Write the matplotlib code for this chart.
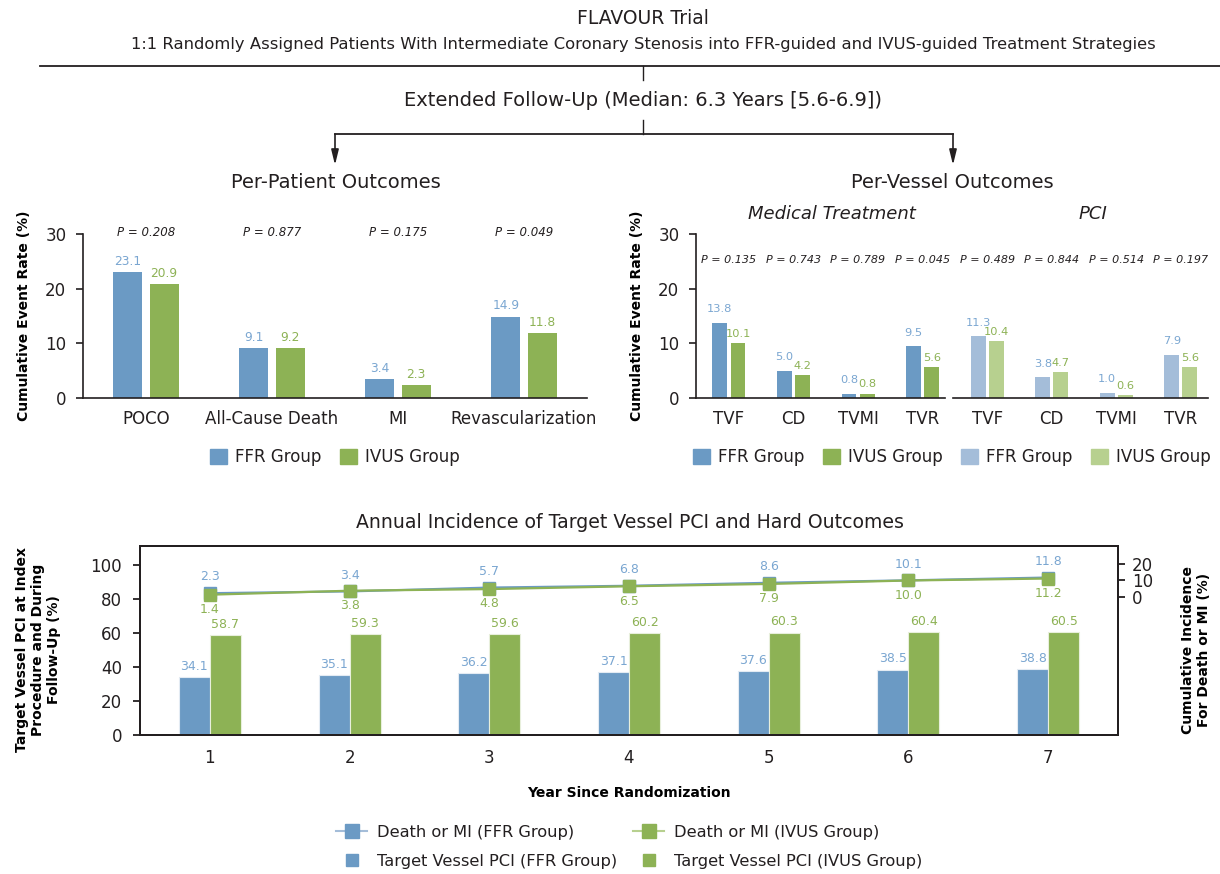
import numpy as np
import matplotlib
matplotlib.use("Agg")
import matplotlib.pyplot as plt
from matplotlib.patches import Patch
from matplotlib.lines import Line2D

plt.rcParams['font.family'] = 'DejaVu Sans'
plt.rcParams['text.color'] = '#231f20'
plt.rcParams['axes.edgecolor'] = '#231f20'
plt.rcParams['xtick.color'] = '#231f20'
plt.rcParams['ytick.color'] = '#231f20'

# per-patient outcomes
patient_outcomes = ['POCO', 'All-Cause Death', 'MI', 'Revascularization']
patient_ffr = [23.1, 9.1, 3.4, 14.9]
patient_ivus = [20.9, 9.2, 2.3, 11.8]
patient_p = ['0.208', '0.877', '0.175', '0.049']

# per-vessel outcomes, medical treatment and PCI
vessel_outcomes = ['TVF', 'CD', 'TVMI', 'TVR']
medical_ffr = [13.8, 5.0, 0.8, 9.5]
medical_ivus = [10.1, 4.2, 0.8, 5.6]
medical_p = ['0.135', '0.743', '0.789', '0.045']
pci_ffr = [11.3, 3.8, 1.0, 7.9]
pci_ivus = [10.4, 4.7, 0.6, 5.6]
pci_p = ['0.489', '0.844', '0.514', '0.197']

# annual incidence
years = [1, 2, 3, 4, 5, 6, 7]
tvpci_ffr = [34.1, 35.1, 36.2, 37.1, 37.6, 38.5, 38.8]
tvpci_ivus = [58.7, 59.3, 59.6, 60.2, 60.3, 60.4, 60.5]
death_mi_ffr = [2.3, 3.4, 5.7, 6.8, 8.6, 10.1, 11.8]
death_mi_ivus = [1.4, 3.8, 4.8, 6.5, 7.9, 10.0, 11.2]

FFR = '#6b9ac4'
IVUS = '#8db255'
FFR_LIGHT = '#a4bdd9'
IVUS_LIGHT = '#b7d08f'
FFR_TEXT = '#7aa6d1'
IVUS_TEXT = '#8db255'
DARK = '#231f20'

W, H = 1220, 874
fig = plt.figure(figsize=(W / 100, H / 100), dpi=100)


def rect(left, top, right, bottom):
    return [left / W, 1 - bottom / H, (right - left) / W, (bottom - top) / H]


# flow header drawn in pixel space
over = fig.add_axes([0, 0, 1, 1])
over.set_xlim(0, W)
over.set_ylim(H, 0)
over.axis('off')
over.text(643, 19, 'FLAVOUR Trial', ha='center', va='center', fontsize=13.5)
over.text(643, 45, '1:1 Randomly Assigned Patients With Intermediate Coronary Stenosis '
          'into FFR-guided and IVUS-guided Treatment Strategies',
          ha='center', va='center', fontsize=11.8)
over.plot([40, W], [66, 66], color=DARK, lw=1.3)
over.plot([643, 643], [66, 80], color=DARK, lw=1)
over.text(643, 101, 'Extended Follow-Up (Median: 6.3 Years [5.6-6.9])',
          ha='center', va='center', fontsize=14)
over.plot([643, 643], [120, 134], color=DARK, lw=1)
over.plot([335, 953], [134, 134], color=DARK, lw=1.3)
for xa in (335, 953):
    over.annotate('', xy=(xa, 165), xytext=(xa, 134),
                  arrowprops=dict(arrowstyle='-|>,head_length=0.9,head_width=0.22',
                                  color=DARK, lw=1.2, shrinkA=0, shrinkB=0))
over.text(336, 183, 'Per-Patient Outcomes', ha='center', va='center', fontsize=14)
over.text(952, 183, 'Per-Vessel Outcomes', ha='center', va='center', fontsize=14)
over.text(630, 522, 'Annual Incidence of Target Vessel PCI and Hard Outcomes',
          ha='center', va='center', fontsize=13.6)


def style_bar_axes(ax):
    ax.set_ylim(0, 30)
    ax.set_yticks([0, 10, 20, 30])
    ax.spines['top'].set_visible(False)
    ax.spines['right'].set_visible(False)
    ax.spines['left'].set_linewidth(1.2)
    ax.spines['bottom'].set_linewidth(1.2)
    ax.tick_params(axis='x', length=0, pad=9, labelsize=12)
    ax.tick_params(axis='y', length=5, width=1.2, pad=7, labelsize=12)
    ax.patch.set_alpha(0)


# per-patient panel
ax1 = fig.add_axes(rect(83, 234, 587, 398))
x = np.arange(len(patient_outcomes))
bw, off = 0.23, 0.143
b1 = ax1.bar(x - off, patient_ffr, bw, color=FFR)
b2 = ax1.bar(x + off, patient_ivus, bw, color=IVUS)
ax1.bar_label(b1, fmt='%.1f', padding=3, color=FFR_TEXT, fontsize=8.8)
ax1.bar_label(b2, fmt='%.1f', padding=3, color=IVUS_TEXT, fontsize=8.8)
for i, p in enumerate(patient_p):
    ax1.text(i, 30.2, f'P = {p}', style='italic', ha='center', va='center',
             fontsize=8.5, clip_on=False)
ax1.set_xlim(-0.5, 3.5)
ax1.set_xticks(x)
ax1.set_xticklabels(patient_outcomes)
style_bar_axes(ax1)
ax1.set_ylabel('Cumulative Event Rate (%)', fontweight='bold', fontsize=10, va='center')
ax1.yaxis.set_label_coords(-0.117, 0.5)

fig.legend(handles=[Patch(color=FFR, label='FFR Group'), Patch(color=IVUS, label='IVUS Group')],
           loc='center', bbox_to_anchor=(335 / W, 1 - 457 / H), ncol=2, frameon=False,
           fontsize=12, handlelength=1.0, handleheight=1.0, handletextpad=0.5,
           columnspacing=1.1)

# per-vessel panel
ax2 = fig.add_axes(rect(696, 234, 1208, 398))
xm = np.arange(len(vessel_outcomes))
xp = xm + len(vessel_outcomes)
vbw, voff = 0.23, 0.14
groups = [
    (xm, medical_ffr, medical_ivus, medical_p, FFR, IVUS),
    (xp, pci_ffr, pci_ivus, pci_p, FFR_LIGHT, IVUS_LIGHT),
]
for pos, ffr_vals, ivus_vals, pvals, c_ffr, c_ivus in groups:
    bf = ax2.bar(pos - voff, ffr_vals, vbw, color=c_ffr)
    bi = ax2.bar(pos + voff, ivus_vals, vbw, color=c_ivus)
    ax2.bar_label(bf, fmt='%.1f', padding=6, color=FFR_TEXT, fontsize=8.2)
    ax2.bar_label(bi, fmt='%.1f', padding=3, color=IVUS_TEXT, fontsize=8.2)
    for xi, p in zip(pos, pvals):
        ax2.text(xi, 25.2, f'P = {p}', style='italic', ha='center', va='center',
                 fontsize=8, clip_on=False)
ax2.text(xm.mean() + 0.1, 33.7, 'Medical Treatment', style='italic', ha='center',
         va='center', fontsize=13, clip_on=False)
ax2.text(xp.mean() + 0.13, 33.7, 'PCI', style='italic', ha='center',
         va='center', fontsize=13, clip_on=False)
ax2.set_xlim(-0.51, 7.42)
ax2.set_xticks(np.concatenate([xm, xp]))
ax2.set_xticklabels(vessel_outcomes * 2)
style_bar_axes(ax2)
ax2.spines['bottom'].set_visible(False)
ax2.axhline(0, xmin=0, xmax=0.486, color=DARK, lw=1.2, clip_on=False)
ax2.axhline(0, xmin=0.502, xmax=1, color=DARK, lw=1.2, clip_on=False)
ax2.set_ylabel('Cumulative Event Rate (%)', fontweight='bold', fontsize=10, va='center')
ax2.yaxis.set_label_coords(-0.115, 0.5)

fig.legend(handles=[Patch(color=FFR, label='FFR Group'), Patch(color=IVUS, label='IVUS Group'),
                    Patch(color=FFR_LIGHT, label='FFR Group'),
                    Patch(color=IVUS_LIGHT, label='IVUS Group')],
           loc='center', bbox_to_anchor=(952 / W, 1 - 457 / H), ncol=4, frameon=False,
           fontsize=12, handlelength=1.0, handleheight=1.0, handletextpad=0.5,
           columnspacing=1.1)

# annual incidence panel
ax3 = fig.add_axes(rect(140, 546, 1118, 735))
yr = np.array(years)
tw = 0.222
b3 = ax3.bar(yr - tw / 2, tvpci_ffr, tw, color=FFR, edgecolor='#e3ebf3', linewidth=0.8)
b4 = ax3.bar(yr + tw / 2, tvpci_ivus, tw, color=IVUS, edgecolor='#e8efdc', linewidth=0.8)
ax3.bar_label(b3, fmt='%.1f', padding=3, color=FFR_TEXT, fontsize=9)
ax3.bar_label(b4, fmt='%.1f', padding=3, color=IVUS_TEXT, fontsize=9)
ax3.set_xlim(0.5, 7.5)
ax3.set_ylim(0, 111.2)
ax3.set_yticks(range(0, 101, 20))
ax3.set_xticks(years)
ax3.tick_params(axis='x', length=0, pad=10, labelsize=12)
ax3.tick_params(axis='y', length=5, width=1.3, pad=8, labelsize=12)
for s in ax3.spines.values():
    s.set_linewidth(1.4)
ax3.set_ylabel('Target Vessel PCI at Index\nProcedure and During\nFollow-Up (%)',
               fontweight='bold', fontsize=10, va='center')
ax3.yaxis.set_label_coords(-0.104, 0.45)
ax3.set_xlabel('Year Since Randomization', fontweight='bold', fontsize=10)
ax3.xaxis.set_label_coords(0.5, -0.27)

ax4 = ax3.twinx()
ax4.plot(yr, death_mi_ffr, color=FFR, lw=1.6, marker='s', ms=9, zorder=3)
ax4.plot(yr, death_mi_ivus, color=IVUS, lw=1.6, marker='s', ms=9, zorder=4)
for xi, v in zip(yr, death_mi_ffr):
    ax4.annotate(f'{v:.1f}', (xi, v), xytext=(0, 7), textcoords='offset points',
                 ha='center', va='bottom', color=FFR_TEXT, fontsize=9)
for xi, v in zip(yr, death_mi_ivus):
    ax4.annotate(f'{v:.1f}', (xi, v), xytext=(0, -6), textcoords='offset points',
                 ha='center', va='top', color=IVUS_TEXT, fontsize=9)
ax4.set_ylim(-83.6, 30.9)
ax4.set_yticks([0, 10, 20])
ax4.tick_params(axis='y', length=5, width=1.3, pad=5, labelsize=12)
for s in ax4.spines.values():
    s.set_linewidth(1.4)
ax4.set_ylabel('Cumulative Incidence\nFor Death or MI (%)', fontweight='bold',
               fontsize=10, va='center', rotation=90)
ax4.yaxis.set_label_coords(1.08, 0.45)

legend_handles = [
    Line2D([], [], color=FFR_LIGHT, lw=1.5, marker='s', ms=10, mfc=FFR, mec=FFR,
           label='Death or MI (FFR Group)'),
    Line2D([], [], ls='none', marker='s', ms=8.5, color=FFR,
           label='Target Vessel PCI (FFR Group)'),
    Line2D([], [], color=IVUS_LIGHT, lw=1.5, marker='s', ms=10, mfc=IVUS, mec=IVUS,
           label='Death or MI (IVUS Group)'),
    Line2D([], [], ls='none', marker='s', ms=8.5, color=IVUS,
           label='Target Vessel PCI (IVUS Group)'),
]
fig.legend(handles=legend_handles, loc='center', bbox_to_anchor=(629 / W, 1 - 847 / H),
           ncol=2, frameon=False, fontsize=11.7, handlelength=1.9, handletextpad=0.6,
           columnspacing=1.0, labelspacing=0.85)

fig.savefig('out.png', dpi=100)
